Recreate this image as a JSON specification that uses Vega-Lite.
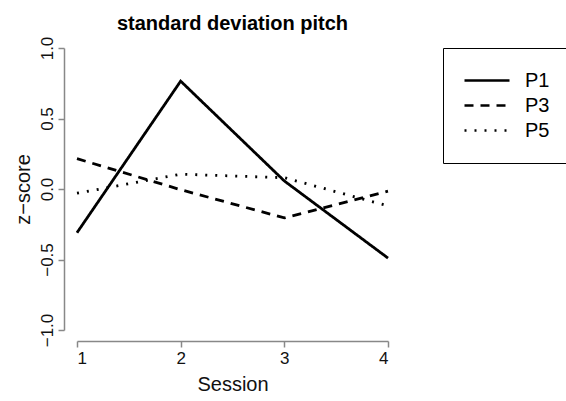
{
  "$schema": "https://vega.github.io/schema/vega-lite/v6.json",
  "width": 311,
  "height": 282,
  "autosize": {"type": "none"},
  "padding": {"left": 77, "top": 48, "right": 178, "bottom": 71},
  "background": "white",
  "config": {
    "font": "Liberation Sans",
    "view": {"stroke": null},
    "axis": {"grid": false}
  },
  "title": {
    "text": "standard deviation pitch",
    "frame": "group",
    "anchor": "middle",
    "fontSize": 20,
    "fontWeight": "bold",
    "color": "black",
    "baseline": "alphabetic",
    "offset": -14
  },
  "data": {
    "values": [
      {"session": 1, "z": -0.31, "series": "P1"},
      {"session": 2, "z": 0.765, "series": "P1"},
      {"session": 3, "z": 0.057, "series": "P1"},
      {"session": 4, "z": -0.49, "series": "P1"},
      {"session": 1, "z": 0.215, "series": "P3"},
      {"session": 2, "z": -0.005, "series": "P3"},
      {"session": 3, "z": -0.205, "series": "P3"},
      {"session": 4, "z": -0.015, "series": "P3"},
      {"session": 1, "z": -0.03, "series": "P5"},
      {"session": 2, "z": 0.105, "series": "P5"},
      {"session": 3, "z": 0.08, "series": "P5"},
      {"session": 4, "z": -0.12, "series": "P5"}
    ]
  },
  "mark": {"type": "line", "color": "black", "strokeWidth": 2.8, "clip": false},
  "encoding": {
    "x": {
      "field": "session",
      "type": "quantitative",
      "scale": {"domain": [1, 4], "nice": false, "zero": false},
      "axis": {
        "title": "Session",
        "values": [1, 2, 3, 4],
        "format": "d",
        "offset": 11,
        "domainColor": "#888888",
        "domainWidth": 1.5,
        "tickColor": "#888888",
        "tickWidth": 1.5,
        "tickSize": 6,
        "labelFontSize": 17,
        "labelColor": "#111111",
        "labelPadding": 3,
        "titleFontSize": 20,
        "titleFontWeight": "normal",
        "titleColor": "#111111",
        "titlePadding": 8
      }
    },
    "y": {
      "field": "z",
      "type": "quantitative",
      "scale": {"domain": [-1, 1], "nice": false, "zero": false},
      "axis": {
        "title": "z−score",
        "values": [-1, -0.5, 0, 0.5, 1],
        "format": ".1f",
        "offset": 13,
        "domainColor": "#888888",
        "domainWidth": 1.5,
        "tickColor": "#888888",
        "tickWidth": 1.5,
        "tickSize": 6,
        "labelAngle": -90,
        "labelAlign": "center",
        "labelBaseline": "bottom",
        "labelFontSize": 17,
        "labelColor": "#111111",
        "labelPadding": 2,
        "titleFontSize": 20,
        "titleFontWeight": "normal",
        "titleColor": "#111111",
        "titlePadding": 5
      }
    },
    "strokeDash": {
      "field": "series",
      "type": "nominal",
      "scale": {"domain": ["P1", "P3", "P5"], "range": [[1, 0], [9, 7], [2, 8]]},
      "legend": {
        "title": null,
        "orient": "none",
        "legendX": 366,
        "legendY": 0,
        "strokeColor": "black",
        "padding": 20,
        "symbolType": "stroke",
        "symbolSize": 2025,
        "symbolStrokeWidth": 2.5,
        "symbolStrokeColor": "black",
        "clipHeight": 25,
        "rowPadding": 0,
        "labelOffset": 14,
        "labelFontSize": 20,
        "labelColor": "black"
      }
    }
  }
}
